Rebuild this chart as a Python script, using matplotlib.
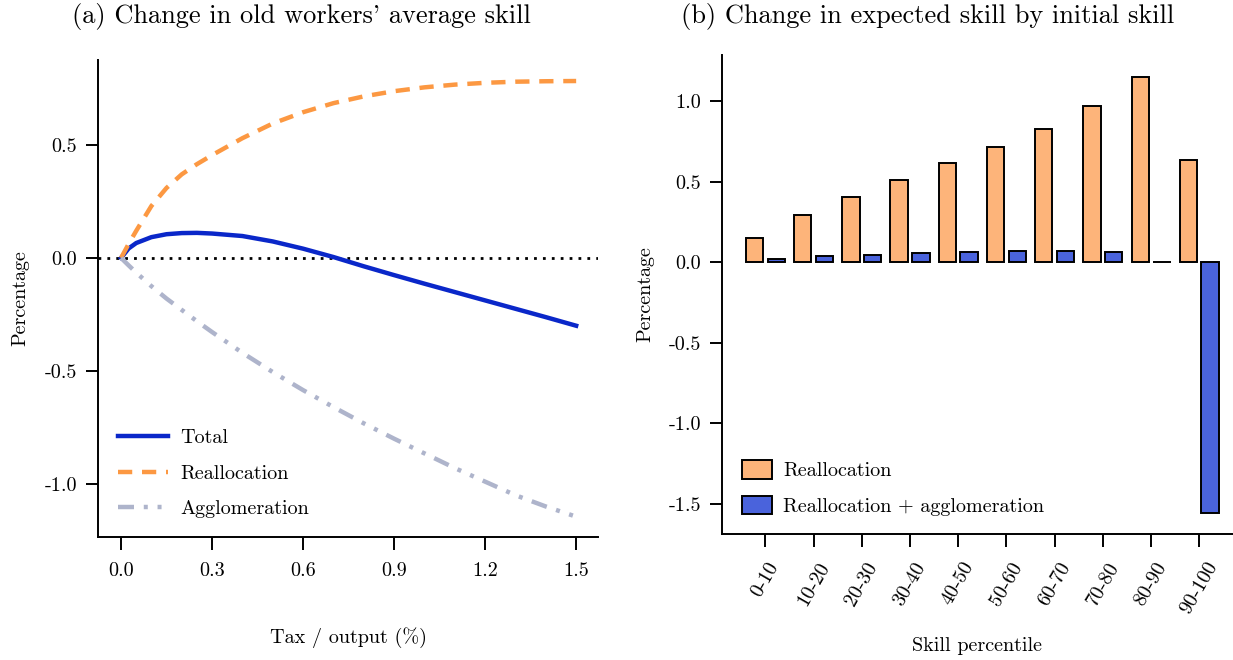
import numpy as np
import matplotlib
matplotlib.use("Agg")
import matplotlib.pyplot as plt

plt.rcParams["font.family"] = "cmr10"
plt.rcParams["axes.unicode_minus"] = False
plt.rcParams["axes.formatter.use_mathtext"] = True
plt.rcParams["mathtext.fontset"] = "cm"

# (a) change in old workers' average skill
tax = [0.0, 0.025, 0.05, 0.1, 0.15, 0.2, 0.25, 0.3, 0.4, 0.5, 0.6, 0.7, 0.8, 0.9, 1.0, 1.1,
       1.2, 1.3, 1.4, 1.5]
total = [0.0, 0.042, 0.066, 0.092, 0.105, 0.110, 0.111, 0.108, 0.097, 0.073, 0.041, 0.004,
         -0.037, -0.076, -0.114, -0.151, -0.188, -0.225, -0.262, -0.300]
realloc = [0.0, 0.062, 0.12, 0.23, 0.31, 0.37, 0.415, 0.455, 0.53, 0.595, 0.645, 0.685,
           0.715, 0.738, 0.755, 0.767, 0.775, 0.780, 0.782, 0.783]
agglom = [0.0, -0.033, -0.065, -0.125, -0.18, -0.23, -0.28, -0.328, -0.42, -0.505, -0.585,
          -0.66, -0.732, -0.80, -0.865, -0.93, -0.99, -1.05, -1.10, -1.145]

# (b) change in expected skill by initial skill
bins = ["0-10", "10-20", "20-30", "30-40", "40-50", "50-60", "60-70", "70-80", "80-90", "90-100"]
bar_realloc = [0.152, 0.295, 0.405, 0.510, 0.614, 0.716, 0.826, 0.969, 1.147, 0.631]
bar_both = [0.019, 0.035, 0.046, 0.056, 0.062, 0.068, 0.071, 0.062, 0.002, -1.557]

fig = plt.figure(figsize=(12.33, 6.6), dpi=100)
ax1 = fig.add_axes([98 / 1233, 1 - 537 / 660, 500 / 1233, 477 / 660])
ax2 = fig.add_axes([722 / 1233, 1 - 534 / 660, 511 / 1233, 479 / 660])

fs = 14.5

# left panel
ax1.axhline(0, color="black", ls=(0, (1, 2.2)), lw=2)
ax1.plot(tax, total, color="#0a27c9", lw=3.2, label="Total")
ax1.plot(tax, realloc, color="#fc9842", lw=3.2, ls=(0, (3.2, 2.2)), label="Reallocation")
ax1.plot(tax, agglom, color="#aeb4cb", lw=3.2, ls=(0, (3.6, 2.2, 0.9, 2.2, 0.9, 2.2)),
         label="Agglomeration")
ax1.set_xlim(-0.076, 1.572)
ax1.set_ylim(-1.235, 0.876)
ax1.set_xticks([0.0, 0.3, 0.6, 0.9, 1.2, 1.5])
ax1.set_xticklabels(["0.0", "0.3", "0.6", "0.9", "1.2", "1.5"])
ax1.set_yticks([-1.0, -0.5, 0.0, 0.5])
ax1.set_yticklabels(["-1.0", "-0.5", "0.0", "0.5"])
ax1.set_xlabel("Tax / output (%)", fontsize=fs, labelpad=34)
ax1.set_ylabel("Percentage", fontsize=fs, labelpad=11)
ax1.legend(loc="lower left", bbox_to_anchor=(0.04, 0.039), frameon=False, fontsize=fs,
           borderaxespad=0, borderpad=0, handlelength=2.5, handletextpad=0.6,
           labelspacing=0.88)

# right panel
pos = np.arange(len(bins))
ax2.bar(pos - 0.225, bar_realloc, width=0.36, color="#fdb47a", edgecolor="black",
        lw=1.4, label="Reallocation")
ax2.bar(pos + 0.225, bar_both, width=0.36, color="#4a63dc", edgecolor="black",
        lw=1.4, label="Reallocation + agglomeration")
ax2.set_xlim(-0.9, 9.7)
ax2.set_ylim(-1.689, 1.286)
ax2.set_xticks(pos)
ax2.set_xticklabels(bins, rotation=60)
ax2.set_yticks([-1.5, -1.0, -0.5, 0.0, 0.5, 1.0])
ax2.set_yticklabels(["-1.5", "-1.0", "-0.5", "0.0", "0.5", "1.0"])
ax2.set_xlabel("Skill percentile", fontsize=fs, labelpad=14)
ax2.set_ylabel("Percentage", fontsize=fs, labelpad=10)
ax2.legend(loc="lower left", bbox_to_anchor=(0.039, 0.038), frameon=False, fontsize=fs,
           borderaxespad=0, borderpad=0, handlelength=1.5, handleheight=1.05,
           handletextpad=0.55, labelspacing=0.75)

for ax in (ax1, ax2):
    for s in ("top", "right"):
        ax.spines[s].set_visible(False)
    for s in ("left", "bottom"):
        ax.spines[s].set_linewidth(1.4)
    ax.tick_params(labelsize=fs, length=9, width=1.4)
    ax.tick_params(axis="x", pad=9)
    ax.tick_params(axis="y", pad=6)

fig.text(301 / 1233, 1 - 17 / 660, "(a) Change in old workers' average skill",
         ha="center", va="center", fontsize=19)
fig.text(928 / 1233, 1 - 17 / 660, "(b) Change in expected skill by initial skill",
         ha="center", va="center", fontsize=19)

fig.savefig("out.png", dpi=100)
